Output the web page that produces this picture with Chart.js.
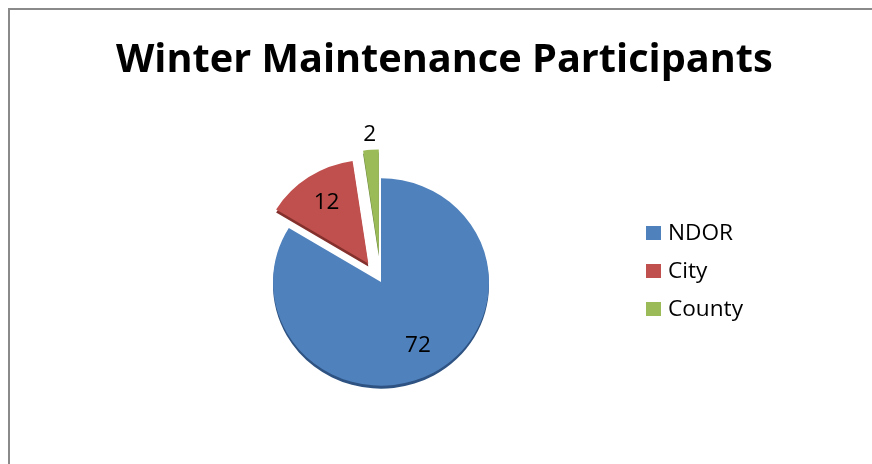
<!DOCTYPE html>
<html>
<head>
<meta charset="utf-8">
<script src="https://cdn.jsdelivr.net/npm/chart.js@4.4.1/dist/chart.umd.min.js"></script>
<style>
  html, body { margin: 0; padding: 0; background: #fff; }
  canvas { display: block; }
</style>
</head>
<body>
<canvas id="pieChart" width="872" height="464"></canvas>
<script>
const chartTitle = 'Winter Maintenance Participants';
const categories = ['NDOR', 'City', 'County'];
const participants = [72, 12, 2];

// styling
const sliceColors = ['#4F81BD', '#C0504D', '#9BBB59'];
const sideColors = ['#2E5382', '#84302D', '#66803A'];
const explodeBy = [0, 23, 30];
const depth = 3;
const squash = 0.96; // slight tilt, the pie is a bit flatter than round
const textFont = '"Open Sans", "Liberation Sans", sans-serif';

// fit the bold title to the width it has in the picture
function fitFontSize(text, weight, target) {
    const c = document.createElement('canvas').getContext('2d');
    c.font = weight + ' 40px ' + textFont;
    return 40 * target / c.measureText(text).width;
}
const titleSize = fitFontSize(chartTitle, 'bold', 657);
const labelSize = fitFontSize('County', 'normal', 75);

const framePlugin = {
    id: 'frame',
    beforeDraw(chart) {
        const ctx = chart.ctx;
        ctx.save();
        ctx.fillStyle = '#fff';
        ctx.fillRect(0, 0, chart.width, chart.height);
        ctx.strokeStyle = '#8a8a8a';
        ctx.lineWidth = 2;
        ctx.beginPath();
        ctx.moveTo(9, chart.height + 5);
        ctx.lineTo(9, 9);
        ctx.lineTo(chart.width + 5, 9);
        ctx.stroke();
        ctx.restore();
    }
};

// pulls slices away from the centre and gives them a dark side
const explodePlugin = {
    id: 'explode',
    beforeDatasetsDraw(chart) {
        const meta = chart.getDatasetMeta(0);
        meta.data.forEach((arc, i) => {
            if (arc._patched) return;
            const base = arc.draw;
            arc.draw = function(ctx, area) {
                const mid = (this.startAngle + this.endAngle) / 2;
                const d = explodeBy[i] || 0;
                const dx = Math.cos(mid) * d;
                const dy = Math.sin(mid) * d;
                const opts = this.options;
                const tilt = (extra) => {
                    ctx.translate(this.x, this.y + extra);
                    ctx.scale(1, squash);
                    ctx.translate(-this.x + dx, -this.y + dy);
                };
                ctx.save();
                tilt(depth);
                this.options = Object.assign({}, opts, {backgroundColor: sideColors[i], borderColor: sideColors[i]});
                base.call(this, ctx, area);
                this.options = opts;
                ctx.restore();
                ctx.save();
                tilt(0);
                base.call(this, ctx, area);
                ctx.restore();
            };
            arc._patched = true;
        });
    }
};

const sliceLabels = {
    id: 'sliceLabels',
    afterDatasetsDraw(chart) {
        const ctx = chart.ctx;
        const values = chart.data.datasets[0].data;
        ctx.save();
        ctx.font = labelSize + 'px ' + textFont;
        ctx.fillStyle = '#000';
        ctx.textAlign = 'center';
        ctx.textBaseline = 'middle';
        chart.getDatasetMeta(0).data.forEach((arc, i) => {
            const p = arc.getProps(['x', 'y', 'startAngle', 'endAngle', 'outerRadius', 'circumference'], true);
            const mid = (p.startAngle + p.endAngle) / 2;
            const share = p.circumference / (2 * Math.PI);
            const r = (explodeBy[i] || 0) + (share < 0.05 ? p.outerRadius + 16 : p.outerRadius * 0.7);
            ctx.fillText(String(values[i]), p.x + Math.cos(mid) * r, p.y + Math.sin(mid) * r * squash);
        });
        ctx.restore();
    }
};

const sideLegend = {
    id: 'sideLegend',
    afterDraw(chart) {
        const ctx = chart.ctx;
        const ds = chart.data.datasets[0];
        ctx.save();
        ctx.font = labelSize + 'px ' + textFont;
        ctx.textBaseline = 'alphabetic';
        chart.data.labels.forEach((label, i) => {
            const base = 240 + i * 38;
            ctx.fillStyle = ds.backgroundColor[i];
            ctx.fillRect(646, base - 14, 15, 14);
            ctx.fillStyle = '#000';
            ctx.fillText(label, 668, base);
        });
        ctx.restore();
    }
};

const titleText = {
    id: 'titleText',
    afterDraw(chart) {
        const ctx = chart.ctx;
        ctx.save();
        ctx.font = 'bold ' + titleSize + 'px ' + textFont;
        ctx.fillStyle = '#000';
        ctx.textAlign = 'left';
        ctx.textBaseline = 'alphabetic';
        ctx.fillText(chartTitle, 116, 72);
        ctx.restore();
    }
};

new Chart(document.getElementById('pieChart'), {
    type: 'pie',
    data: {
        labels: categories,
        datasets: [{
            data: participants,
            backgroundColor: sliceColors,
            borderWidth: 0,
            hoverOffset: 0,
            radius: 108
        }]
    },
    options: {
        responsive: false,
        animation: false,
        events: [],
        layout: {
            padding: {left: 100, right: 210, top: 110, bottom: 10}
        },
        plugins: {
            legend: {display: false},
            title: {display: false},
            tooltip: {enabled: false}
        }
    },
    plugins: [framePlugin, explodePlugin, sliceLabels, sideLegend, titleText]
});
</script>
</body>
</html>
